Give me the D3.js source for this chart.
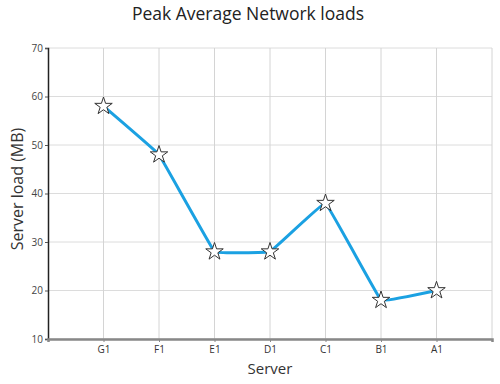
<!DOCTYPE html>
<html>
<head>
<meta charset="utf-8">
<script src="https://cdn.jsdelivr.net/npm/d3@7"></script>
<style>
  body { margin: 0; background: #fff; }
  text { font-family: "Open Sans", "Noto Sans", sans-serif; }
</style>
</head>
<body>
<div id="chart"></div>
<script>
var servers = ["G1", "F1", "E1", "D1", "C1", "B1", "A1"];
var loads = [58, 48, 28, 28, 38, 18, 20];
var yTicks = [10, 20, 30, 40, 50, 60, 70];

var width = 500, height = 384;
var margin = { top: 48, right: 8, bottom: 45, left: 48 };
var plotW = width - margin.left - margin.right;
var plotH = height - margin.top - margin.bottom;

var svg = d3.select("#chart").append("svg")
    .attr("width", width)
    .attr("height", height);

var g = svg.append("g").attr("transform", "translate(" + margin.left + "," + margin.top + ")");

// categories sit at 1..7 on a 0..8 range
var x = d3.scalePoint().domain(servers).range([0, plotW]).padding(1);
var y = d3.scaleLinear().domain([10, 70]).range([plotH, 0]);

// grid
g.selectAll(".hgrid").data(yTicks).enter().append("line")
    .attr("x1", 0).attr("x2", plotW)
    .attr("y1", d => y(d)).attr("y2", d => y(d))
    .attr("stroke", "#dcdcdc").attr("stroke-width", 1);
g.selectAll(".vgrid").data(servers).enter().append("line")
    .attr("x1", d => x(d)).attr("x2", d => x(d))
    .attr("y1", 0).attr("y2", plotH)
    .attr("stroke", "#d4d4d4").attr("stroke-width", 1);
g.append("line")
    .attr("x1", plotW).attr("x2", plotW).attr("y1", 0).attr("y2", plotH)
    .attr("stroke", "#d4d4d4");

// y axis
var yAxis = g.append("g").call(d3.axisLeft(y).tickValues(yTicks).tickSize(3).tickPadding(2));
yAxis.select(".domain").attr("stroke", "#222").attr("stroke-width", 1.5);
yAxis.selectAll(".tick line").attr("stroke", "#555");
yAxis.selectAll("text").attr("fill", "#444").style("font-size", "10px");

// x axis
var xAxis = g.append("g").attr("transform", "translate(0," + plotH + ")")
    .call(d3.axisBottom(x).tickSize(3).tickPadding(4));
xAxis.select(".domain").attr("stroke", "#888").attr("stroke-width", 2.5);
xAxis.selectAll(".tick line").attr("stroke", "#888");
xAxis.selectAll("text").attr("fill", "#333").style("font-size", "10px");

// line, almost straight with a slight spline
var line = d3.line()
    .x((d, i) => x(servers[i]))
    .y(d => y(d))
    .curve(d3.curveCardinal.tension(0.88));

g.append("path")
    .datum(loads)
    .attr("fill", "none")
    .attr("stroke", "#1ba1e2")
    .attr("stroke-width", 3)
    .attr("d", line);

// star markers
var star = d3.symbol().type(d3.symbolStar).size(95);
g.selectAll(".pt").data(loads).enter().append("path")
    .attr("transform", (d, i) => "translate(" + x(servers[i]) + "," + y(d) + ")")
    .attr("d", star)
    .attr("fill", "#fff")
    .attr("stroke", "#333")
    .attr("stroke-width", 1);

// titles
svg.append("text")
    .attr("x", 248).attr("y", 20)
    .attr("text-anchor", "middle")
    .style("font-size", "17.5px").attr("fill", "#222")
    .text("Peak Average Network loads");

svg.append("text")
    .attr("x", margin.left + plotW / 2).attr("y", 374)
    .attr("text-anchor", "middle")
    .style("font-size", "15px").attr("fill", "#333")
    .text("Server");

svg.append("text")
    .attr("transform", "translate(23,189) rotate(-90)")
    .attr("text-anchor", "middle")
    .style("font-size", "16px").attr("fill", "#333")
    .text("Server load (MB)");
</script>
</body>
</html>
